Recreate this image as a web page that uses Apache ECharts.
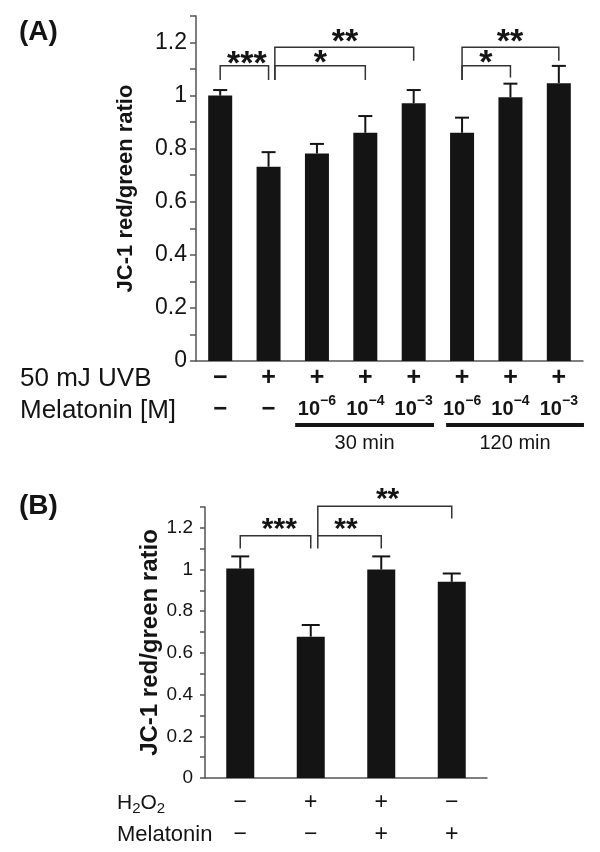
<!DOCTYPE html>
<html>
<head>
<meta charset="utf-8">
<title>JC-1 red/green ratio</title>
<script src="https://cdn.jsdelivr.net/npm/echarts@6/dist/echarts.min.js"></script>
<style>
  html, body { margin: 0; padding: 0; background: #fff; }
  #chart { width: 600px; height: 852px; }
</style>
</head>
<body>
<div id="chart"></div>
<script>
  // (A) UVB + melatonin
  var catsA = ['control', 'UVB', 'UVB+Mel 1e-6 30min', 'UVB+Mel 1e-4 30min', 'UVB+Mel 1e-3 30min',
    'UVB+Mel 1e-6 120min', 'UVB+Mel 1e-4 120min', 'UVB+Mel 1e-3 120min']
  var uvbRow = ['−', '+', '+', '+', '+', '+', '+', '+']
  var melExpA = [null, null, 6, 4, 3, 6, 4, 3]   // melatonin 10^-n M, null = none
  var valuesA = [1.0, 0.732, 0.782, 0.86, 0.971, 0.86, 0.994, 1.047]
  var errA = [0.021, 0.055, 0.036, 0.063, 0.05, 0.057, 0.051, 0.065]
  // brackets: [from, to, top, left foot, right foot]
  var bracketsA = [
    [0, 1, 1.113, 1.059, 1.059],
    [1.13, 3, 1.113, 1.059, 1.059],
    [1.13, 4, 1.182, 1.059, 1.131],
    [5, 6, 1.113, 1.059, 1.068],
    [5, 7, 1.182, 1.059, 1.131]
  ]
  var starsA = [[0.55, 1.145, '***'], [2.07, 1.147, '*'], [2.58, 1.229, '**'], [5.49, 1.147, '*'], [5.99, 1.229, '**']]
  var timeGroupsA = [[1.55, 4.42, '30 min'], [4.67, 7.52, '120 min']]

  // (B) H2O2 + melatonin
  var catsB = ['control', 'H2O2', 'H2O2+Mel', 'Mel']
  var h2o2Row = ['−', '+', '+', '−']
  var melRowB = ['−', '−', '+', '+']
  var valuesB = [1.005, 0.678, 1.0, 0.941]
  var errB = [0.058, 0.056, 0.063, 0.04]
  var bracketsB = [
    [0, 1, 1.162, 1.101, 1.101],
    [1.1, 2, 1.162, 1.101, 1.101],
    [1.1, 3, 1.304, 1.162, 1.245]
  ]
  var starsB = [[0.555, 1.224, '***'], [1.5, 1.224, '**'], [2.09, 1.365, '**']]

  var yTicks = [0, 0.2, 0.4, 0.6, 0.8, 1, 1.2]

  var FONT = 'Liberation Sans, Arial, sans-serif'
  var INK = '#141414'
  var LINE = '#555'

  var chart = echarts.init(document.getElementById('chart'))

  function tickLabel (v) {
    var r = Math.round(v * 10) / 10
    return yTicks.indexOf(r) >= 0 ? String(r) : ''
  }

  function errItem (cap) {
    return function (params, api) {
      var p0 = api.coord([api.value(0), api.value(1)])
      var p1 = api.coord([api.value(0), api.value(2)])
      return {
        type: 'group',
        children: [
          { type: 'line', shape: { x1: p0[0], y1: p0[1], x2: p1[0], y2: p1[1] }, style: { stroke: INK, lineWidth: 2 } },
          { type: 'line', shape: { x1: p1[0] - cap, y1: p1[1], x2: p1[0] + cap, y2: p1[1] }, style: { stroke: INK, lineWidth: 2 } }
        ]
      }
    }
  }

  function bracketItem (params, api) {
    var x1 = api.value(0), x2 = api.value(1)
    var pts = [
      api.coord([x1, api.value(3)]),
      api.coord([x1, api.value(2)]),
      api.coord([x2, api.value(2)]),
      api.coord([x2, api.value(4)])
    ]
    return { type: 'polyline', shape: { points: pts }, style: { stroke: '#333', lineWidth: 1.5, fill: null } }
  }

  function starItem (size) {
    return function (params, api) {
      var p = api.coord([api.value(0), api.value(1)])
      return {
        type: 'text',
        x: p[0],
        y: p[1] + size * 0.22,
        style: {
          text: api.value(2), fontSize: size, fontWeight: 'bold', fontFamily: FONT, fill: INK,
          textAlign: 'center', textVerticalAlign: 'middle', align: 'center', verticalAlign: 'middle'
        }
      }
    }
  }

  function groupItem (params, api) {
    var p0 = api.coord([api.value(0), 0])
    var p1 = api.coord([api.value(1), 0])
    var y = p0[1] + 64
    return {
      type: 'group',
      children: [
        { type: 'line', shape: { x1: p0[0], y1: y, x2: p1[0], y2: y }, style: { stroke: INK, lineWidth: 4 } },
        {
          type: 'text', x: (p0[0] + p1[0]) / 2, y: y + 18,
          style: {
            text: api.value(2), fontSize: 20, fontFamily: FONT, fill: INK,
            textAlign: 'center', textVerticalAlign: 'middle', align: 'center', verticalAlign: 'middle'
          }
        }
      ]
    }
  }

  function yAxisOf (grid, fontSize, gap, nameSize, tickLen, margin) {
    return {
      type: 'value', gridIndex: grid, min: 0, max: 1.3, interval: 0.1,
      name: 'JC-1 red/green ratio', nameLocation: 'middle', nameGap: gap,
      nameTextStyle: { fontSize: nameSize, fontWeight: 'bold', fontFamily: FONT, color: INK },
      axisLine: { show: true, onZero: false, lineStyle: { color: LINE, width: 1.5 } },
      axisTick: { show: true, length: tickLen, lineStyle: { color: LINE, width: 1.5 } },
      axisLabel: { formatter: tickLabel, fontSize: fontSize, fontFamily: FONT, color: INK, margin: margin },
      splitLine: { show: false }
    }
  }

  const option = {
    backgroundColor: '#fff',
    animation: false,
    grid: [
      { left: 196, top: 16, width: 387, height: 345 },
      { left: 205, top: 507, width: 282, height: 271 }
    ],
    xAxis: [
      {
        type: 'category', gridIndex: 0, data: catsA,
        axisLine: { onZero: false, lineStyle: { color: LINE, width: 1.5 } },
        axisTick: { length: 6, lineStyle: { color: LINE, width: 1.5 } },
        axisLabel: {
          interval: 0, margin: 1,
          formatter: function (val, i) {
            var mel = melExpA[i] === null ? '{d|−}' : '{m|10}{sup|−' + melExpA[i] + '}'
            return '{s|' + uvbRow[i] + '}\n' + mel
          },
          rich: {
            s: { fontSize: 25, fontWeight: 'bold', fontFamily: FONT, color: INK, lineHeight: 32 },
            d: { fontSize: 24, fontWeight: 'bold', fontFamily: FONT, color: INK, lineHeight: 30 },
            m: { fontSize: 20, fontWeight: 'bold', fontFamily: FONT, color: INK, lineHeight: 30 },
            sup: { fontSize: 14, fontWeight: 'bold', fontFamily: FONT, color: INK, lineHeight: 16, verticalAlign: 'top' }
          }
        }
      },
      {
        type: 'category', gridIndex: 1, data: catsB,
        axisLine: { onZero: false, lineStyle: { color: LINE, width: 1.5 } },
        axisTick: { length: 5, lineStyle: { color: LINE, width: 1.5 } },
        axisLabel: {
          interval: 0, margin: 9,
          formatter: function (val, i) {
            return '{s|' + h2o2Row[i] + '}\n{s|' + melRowB[i] + '}'
          },
          rich: {
            s: { fontSize: 23, fontFamily: FONT, color: INK, lineHeight: 32 }
          }
        }
      },
      { type: 'value', gridIndex: 0, min: -0.5, max: 7.5, show: false },
      { type: 'value', gridIndex: 1, min: -0.5, max: 3.5, show: false }
    ],
    yAxis: [
      yAxisOf(0, 23, 59, 22, 6, 9),
      yAxisOf(1, 19, 43, 24, 5, 12)
    ],
    series: [
      {
        name: 'A', type: 'bar', xAxisIndex: 0, yAxisIndex: 0, data: valuesA,
        barWidth: 24, itemStyle: { color: INK }
      },
      {
        name: 'errA', type: 'custom', xAxisIndex: 2, yAxisIndex: 0, z: 3,
        renderItem: errItem(7),
        data: valuesA.map(function (v, i) { return [i, v, v + errA[i]] })
      },
      { name: 'bracketsA', type: 'custom', xAxisIndex: 2, yAxisIndex: 0, clip: false, renderItem: bracketItem, data: bracketsA },
      { name: 'starsA', type: 'custom', xAxisIndex: 2, yAxisIndex: 0, clip: false, renderItem: starItem(34), data: starsA },
      { name: 'timesA', type: 'custom', xAxisIndex: 2, yAxisIndex: 0, clip: false, renderItem: groupItem, data: timeGroupsA },
      {
        name: 'B', type: 'bar', xAxisIndex: 1, yAxisIndex: 1, data: valuesB,
        barWidth: 28, itemStyle: { color: INK }
      },
      {
        name: 'errB', type: 'custom', xAxisIndex: 3, yAxisIndex: 1, z: 3,
        renderItem: errItem(9),
        data: valuesB.map(function (v, i) { return [i, v, v + errB[i]] })
      },
      { name: 'bracketsB', type: 'custom', xAxisIndex: 3, yAxisIndex: 1, clip: false, renderItem: bracketItem, data: bracketsB },
      { name: 'starsB', type: 'custom', xAxisIndex: 3, yAxisIndex: 1, clip: false, renderItem: starItem(30), data: starsB }
    ],
    graphic: [
      { type: 'text', x: 19, y: 32, style: { text: '(A)', fontSize: 28, fontWeight: 'bold', fontFamily: FONT, fill: INK, textVerticalAlign: 'middle', verticalAlign: 'middle' } },
      { type: 'text', x: 19, y: 506, style: { text: '(B)', fontSize: 28, fontWeight: 'bold', fontFamily: FONT, fill: INK, textVerticalAlign: 'middle', verticalAlign: 'middle' } },
      { type: 'text', x: 20, y: 379, style: { text: '50 mJ UVB', fontSize: 26, fontFamily: FONT, fill: INK, textVerticalAlign: 'middle', verticalAlign: 'middle' } },
      { type: 'text', x: 20, y: 411, style: { text: 'Melatonin [M]', fontSize: 26, fontFamily: FONT, fill: INK, textVerticalAlign: 'middle', verticalAlign: 'middle' } },
      {
        type: 'text', x: 117, y: 803,
        style: {
          text: '{n|H}{d|2}{n|O}{d|2}', fill: INK, textVerticalAlign: 'middle', verticalAlign: 'middle',
          rich: {
            n: { fontSize: 21, fontFamily: FONT, color: INK, lineHeight: 26 },
            d: { fontSize: 15, fontFamily: FONT, color: INK, lineHeight: 14, verticalAlign: 'bottom' }
          }
        }
      },
      { type: 'text', x: 117, y: 835, style: { text: 'Melatonin', fontSize: 22, fontFamily: FONT, fill: INK, textVerticalAlign: 'middle', verticalAlign: 'middle' } }
    ]
  }

  chart.setOption(option)
</script>
</body>
</html>
